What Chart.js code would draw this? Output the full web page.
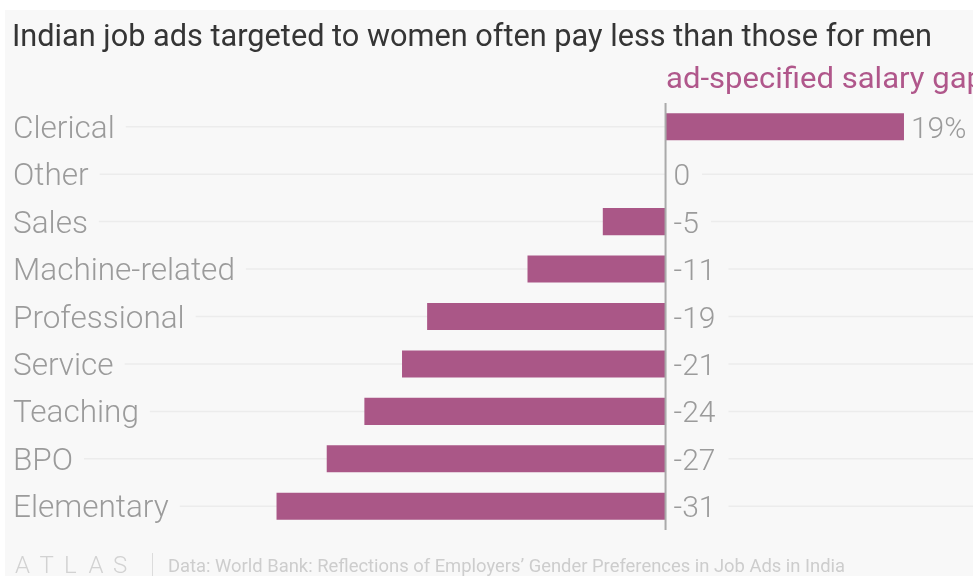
<!DOCTYPE html>
<html>
<head>
<meta charset="utf-8">
<title>Indian job ads salary gap</title>
<script src="https://cdn.jsdelivr.net/npm/chart.js@4.4.1/dist/chart.umd.min.js"></script>
<style>
    html, body { margin: 0; padding: 0; background: #ffffff; }
    #wrap { position: relative; width: 973px; height: 576px; }
</style>
</head>
<body>
<div id="wrap"><canvas id="gapChart" width="973" height="576"></canvas></div>
<script>
// Chart data
const categories = ['Clerical', 'Other', 'Sales', 'Machine-related', 'Professional', 'Service', 'Teaching', 'BPO', 'Elementary'];
const salaryGap = [19, 0, -5, -11, -19, -21, -24, -27, -31];
const valueLabels = ['19%', '0', '-5', '-11', '-19', '-21', '-24', '-27', '-31'];

const titleText = 'Indian job ads targeted to women often pay less than those for men';
const subtitleText = 'ad-specified salary gap';
const sourceText = 'Data: World Bank: Reflections of Employers\u2019 Gender Preferences in Job Ads in India';

const barColor = '#aa5787';
const labelColor = '#9b9b9b';
const gridColor = '#ececec';
const panelColor = '#f8f8f8';
const labelFont = '300 31.5px Roboto';

// draw text scaled horizontally to a target width
function fitText(ctx, text, x, y, width) {
    const w = ctx.measureText(text).width;
    const s = width / w;
    ctx.save();
    ctx.translate(x, y);
    ctx.scale(s, 1);
    ctx.fillText(text, 0, 0);
    ctx.restore();
}

const decorPlugin = {
    id: 'decor',
    beforeDraw(chart) {
        const ctx = chart.ctx;
        ctx.save();
        ctx.fillStyle = panelColor;
        ctx.fillRect(5, 10, chart.width - 5, chart.height - 10);

        ctx.textBaseline = 'alphabetic';
        ctx.textAlign = 'left';
        ctx.fillStyle = '#353535';
        ctx.font = '400 32px Roboto';
        fitText(ctx, titleText, 12, 46, 920);

        ctx.fillStyle = '#b0578b';
        ctx.font = '400 29px Roboto';
        fitText(ctx, subtitleText, 666, 88, 318);

        // footer
        ctx.fillStyle = '#d2d2d2';
        ctx.font = '300 24px Roboto';
        const logo = 'ATLAS';
        for (let i = 0; i < logo.length; i++) {
            ctx.fillText(logo[i], 15 + i * 24.5, 573);
        }
        ctx.strokeStyle = '#dcdcdc';
        ctx.lineWidth = 1;
        ctx.beginPath();
        ctx.moveTo(152.5, 553);
        ctx.lineTo(152.5, 576);
        ctx.stroke();
        ctx.fillStyle = '#cdcdcd';
        ctx.font = '400 19px Roboto';
        fitText(ctx, sourceText, 168, 572, 677);
        ctx.restore();
    },
    beforeDatasetsDraw(chart) {
        const ctx = chart.ctx;
        const xs = chart.scales.x;
        const ys = chart.scales.y;
        const area = chart.chartArea;
        const zero = xs.getPixelForValue(0);
        ctx.save();
        ctx.font = labelFont;
        ctx.textBaseline = 'alphabetic';
        ctx.lineWidth = 1.5;
        ctx.strokeStyle = gridColor;
        categories.forEach((cat, i) => {
            const y = ys.getPixelForValue(i);
            const labelEnd = area.left + ctx.measureText(cat).width;
            const v = salaryGap[i];
            const vx = v > 0 ? xs.getPixelForValue(v) + 7 : zero + 8;
            const vw = ctx.measureText(valueLabels[i]).width;
            ctx.beginPath();
            ctx.moveTo(labelEnd + 11, y);
            ctx.lineTo(Math.min(zero, vx - 8), y);
            ctx.moveTo(vx + vw + 11, y);
            ctx.lineTo(area.right, y);
            ctx.stroke();
            ctx.fillStyle = labelColor;
            ctx.fillText(cat, area.left, y + 11);
        });
        ctx.restore();
    },
    afterDatasetsDraw(chart) {
        const ctx = chart.ctx;
        const xs = chart.scales.x;
        const ys = chart.scales.y;
        const area = chart.chartArea;
        const zero = xs.getPixelForValue(0);
        ctx.save();
        // zero line
        ctx.strokeStyle = '#aaaaaa';
        ctx.lineWidth = 2;
        ctx.beginPath();
        ctx.moveTo(zero, area.top);
        ctx.lineTo(zero, area.bottom);
        ctx.stroke();
        // value labels
        ctx.font = '300 30px Roboto';
        ctx.fillStyle = labelColor;
        ctx.textBaseline = 'alphabetic';
        salaryGap.forEach((v, i) => {
            const y = ys.getPixelForValue(i);
            const vx = v > 0 ? xs.getPixelForValue(v) + 7 : zero + 8;
            ctx.fillText(valueLabels[i], vx, y + 11);
        });
        ctx.restore();
    }
};

document.addEventListener('DOMContentLoaded', function() {
    const ctx = document.getElementById('gapChart').getContext('2d');
    new Chart(ctx, {
        type: 'bar',
        data: {
            labels: categories,
            datasets: [{
                data: salaryGap,
                backgroundColor: barColor,
                borderWidth: 0,
                barPercentage: 0.57,
                categoryPercentage: 1
            }]
        },
        options: {
            indexAxis: 'y',
            responsive: false,
            animation: false,
            layout: { padding: { top: 103, bottom: 46, left: 13, right: 0 } },
            plugins: {
                legend: { display: false },
                tooltip: { enabled: false }
            },
            scales: {
                x: { display: false, min: -52, max: 24.5 },
                y: { display: false, offset: true }
            }
        },
        plugins: [decorPlugin]
    });
});
</script>
</body>
</html>
